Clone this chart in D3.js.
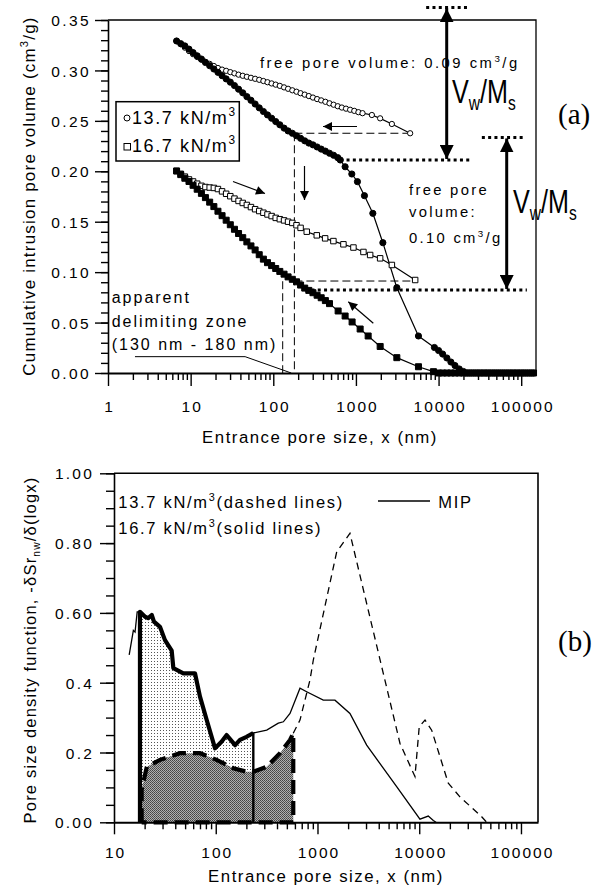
<!DOCTYPE html>
<html><head><meta charset="utf-8">
<script src="https://cdn.jsdelivr.net/npm/d3@7"></script>
<style>
html,body{margin:0;padding:0;background:#fff;}
svg{display:block;}
text{font-family:"Liberation Sans",Arial,Helvetica,sans-serif;fill:#000;}
</style></head><body>
<svg id="fig" width="608" height="895"></svg>
<script>
// ---------- Panel (a): cumulative intrusion pore volume, [pore size nm, volume cm3/g] ----------
const intrusion137 = [[6.76,0.3292],[7.59,0.3265],[8.51,0.3243],[9.55,0.3211],[10.7,0.3177],[12.0,0.3145],[13.5,0.3113],[15.1,0.3079],[17.0,0.3047],[19.1,0.3014],[21.4,0.2981],[24.0,0.2948],[26.9,0.2916],[30.2,0.2884],[33.9,0.2850],[38.0,0.2814],[42.7,0.2778],[47.9,0.2740],[53.7,0.2704],[60.3,0.2667],[67.6,0.2629],[75.9,0.2593],[85.1,0.2559],[95.5,0.2526],[107,0.2493],[120,0.2461],[135,0.2428],[151,0.2400],[170,0.2377],[191,0.2352],[214,0.2327],[240,0.2302],[269,0.2280],[302,0.2262],[339,0.2241],[380,0.2220],[427,0.2200],[479,0.2179],[537,0.2159],[603,0.2135],[646,0.2112],[740,0.2045],[892,0.1973],[1043,0.1897],[1268,0.1758],[1602,0.1583],[2118,0.1292],[3126,0.0846],[5710,0.0367],[8910,0.0253],[10000,0.0223],[11200,0.0188],[12600,0.0149],[14100,0.0109],[15800,0.0074],[17800,0.0040],[20000,0.0015],[22400,0],[25100,0],[28200,0],[31600,0],[35500,0],[39800,0],[44700,0],[50100,0],[56200,0],[63100,0],[70800,0],[79400,0],[89100,0],[100000,0],[112000,0],[126000,0],[141000,0]];
const extrusion137 = [[6.76,0.3292],[7.59,0.3261],[8.51,0.3226],[9.55,0.3192],[10.7,0.3161],[12.0,0.3133],[13.5,0.3106],[15.1,0.3085],[17.0,0.3065],[19.1,0.3044],[21.4,0.3024],[24.0,0.3008],[26.9,0.2996],[30.2,0.2983],[33.9,0.2971],[38.0,0.2958],[42.7,0.2947],[47.9,0.2937],[53.7,0.2927],[60.3,0.2917],[67.6,0.2907],[75.9,0.2895],[85.1,0.2883],[95.5,0.2871],[107,0.2859],[120,0.2847],[135,0.2832],[151,0.2818],[170,0.2803],[191,0.2789],[214,0.2774],[240,0.2760],[269,0.2746],[302,0.2731],[339,0.2716],[380,0.2703],[427,0.2689],[479,0.2674],[537,0.2660],[603,0.2645],[676,0.2632],[759,0.2621],[851,0.2610],[955,0.2599],[1072,0.2586],[1202,0.2576],[1559,0.2558],[1963,0.2525],[2722,0.2469],[4530,0.2377]];
const intrusion167 = [[6.76,0.2003],[7.59,0.1967],[8.51,0.1931],[9.55,0.1899],[10.7,0.1861],[12.0,0.1822],[13.5,0.1781],[15.1,0.1739],[17.0,0.1694],[19.1,0.1650],[21.4,0.1604],[24.0,0.1560],[26.9,0.1515],[30.2,0.1470],[33.9,0.1425],[38.0,0.1383],[42.7,0.1342],[47.9,0.1300],[53.7,0.1260],[60.3,0.1220],[67.6,0.1173],[75.9,0.1129],[85.1,0.1094],[95.5,0.1065],[107,0.1036],[120,0.1007],[135,0.0980],[151,0.0953],[170,0.0929],[191,0.0904],[214,0.0872],[240,0.0842],[269,0.0819],[302,0.0796],[339,0.0771],[380,0.0746],[427,0.0718],[479,0.0688],[609,0.0615],[740,0.0565],[899,0.0506],[1125,0.0436],[1406,0.0367],[1965,0.0263],[3126,0.0152],[5710,0.0062],[8670,0.0013],[10000,0],[11200,0],[12600,0],[14100,0],[15800,0],[17800,0],[20000,0],[22400,0],[25100,0],[28200,0],[31600,0],[35500,0],[39800,0],[44700,0],[50100,0],[56200,0],[63100,0],[70800,0],[79400,0],[89100,0],[100000,0],[112000,0],[126000,0],[141000,0]];
const extrusion167 = [[6.76,0.2003],[7.59,0.1975],[8.51,0.1947],[9.55,0.1919],[10.7,0.1899],[12.0,0.1877],[13.5,0.1856],[15.1,0.1844],[17.0,0.1839],[19.1,0.1835],[21.4,0.1824],[24.0,0.1801],[26.9,0.1777],[30.2,0.1753],[33.9,0.1729],[38.0,0.1706],[42.7,0.1686],[47.9,0.1666],[53.7,0.1645],[60.3,0.1624],[67.6,0.1606],[75.9,0.1589],[85.1,0.1572],[95.5,0.1556],[107,0.1538],[120,0.1525],[135,0.1513],[151,0.1500],[170,0.1488],[191,0.1465],[214,0.1439],[254,0.1401],[336,0.1365],[424,0.1335],[534,0.1308],[706,0.1276],[933,0.1244],[1233,0.1200],[1486,0.1170],[1963,0.1137],[2722,0.1071],[5210,0.0922]];

// delimiting zone (nm) and reference levels of the water-content arrows (cm3/g)
const delimitZone = [130, 180];
const vwLevels137 = [0.3625, 0.2112];
const vwLevels167 = [0.2335, 0.0823];

const xTicksA = [1, 10, 100, 1000, 10000, 100000];
const xTickLabelsA = ["1", "10", "100", "1000", "10000", "100000"];
const yTicksA = [0, 0.05, 0.10, 0.15, 0.20, 0.25, 0.30, 0.35];
const yTickLabelsA = ["0.00", "0.05", "0.10", "0.15", "0.20", "0.25", "0.30", "0.35"];

// ---------- Panel (b): pore size density function, [pore size nm, density] ----------
const psd167 = [[14.1,0.480],[15.5,0.550],[16.1,0.545],[16.9,0.603],[18.0,0.603],[20.2,0.589],[21.7,0.585],[23.5,0.594],[24.7,0.575],[28.3,0.560],[31.7,0.522],[36.9,0.492],[38.3,0.442],[48.0,0.427],[62.5,0.427],[70.0,0.360],[81.5,0.293],[98.4,0.212],[114,0.231],[128,0.250],[155,0.221],[173,0.236],[201,0.245],[234,0.256],[317,0.264],[412,0.284],[462,0.288],[537,0.312],[673,0.384],[783,0.374],[1140,0.350],[1486,0.350],[2084,0.312],[3045,0.221],[6000,0.102],[10160,0.009],[12270,0.018],[13750,0.005],[14620,0]];
const psd137 = [[18.7,0.093],[21.0,0.159],[28.3,0.179],[44.5,0.198],[70.0,0.198],[102,0.179],[149,0.155],[201,0.145],[234,0.145],[317,0.159],[428,0.198],[537,0.236],[578,0.255],[673,0.293],[844,0.408],[910,0.465],[1545,0.775],[2085,0.828],[4276,0.446],[6470,0.226],[9080,0.131],[10000,0.274],[11400,0.293],[13250,0.264],[19300,0.112],[25100,0.073],[41100,0.016],[46000,0]];
const rangeSolid = [18.0, 234];
const rangeDashed = [18.7, 578];

const xTicksB = [10, 100, 1000, 10000, 100000];
const xTickLabelsB = ["10", "100", "1000", "10000", "100000"];
const yTicksB = [0, 0.2, 0.4, 0.6, 0.8, 1.0];
const yTickLabelsB = ["0.00", "0.2", "0.4", "0.60", "0.80", "1.00"];

// ---------- helpers ----------
const svg = d3.select("#fig");
const defs = svg.append("defs");

function arrowMarker(id, len, wid) {
  defs.append("marker").attr("id", id).attr("viewBox", "0 0 10 10")
    .attr("refX", 10).attr("refY", 5).attr("markerUnits", "userSpaceOnUse")
    .attr("markerWidth", len).attr("markerHeight", wid).attr("orient", "auto-start-reverse")
    .append("path").attr("d", "M0,0L10,5L0,10Z").attr("fill", "#000");
}
arrowMarker("headSmall", 11, 9);
arrowMarker("headBig", 14, 14);

// light stipple and dark stipple fills
const pl = defs.append("pattern").attr("id", "stippleLight").attr("patternUnits", "userSpaceOnUse")
  .attr("width", 3).attr("height", 3);
pl.append("rect").attr("width", 3).attr("height", 3).attr("fill", "#fff");
pl.append("rect").attr("x", 1).attr("y", 1).attr("width", 1).attr("height", 1).attr("fill", "#555");
const pd = defs.append("pattern").attr("id", "stippleDark").attr("patternUnits", "userSpaceOnUse")
  .attr("width", 2).attr("height", 2);
pd.append("rect").attr("width", 2).attr("height", 2).attr("fill", "#b0b0b0");
pd.append("rect").attr("width", 1).attr("height", 1).attr("fill", "#444");
pd.append("rect").attr("x", 1).attr("y", 1).attr("width", 1).attr("height", 1).attr("fill", "#555");

// text with optional sub/superscript parts
function label(g, x, y, parts, o = {}) {
  const size = o.size || 15, ls = o.ls == null ? 2 : o.ls;
  const t = g.append("text")
    .attr("transform", `translate(${x},${y})` + (o.rotate ? ` rotate(${o.rotate})` : "") + (o.sx ? ` scale(${o.sx},1)` : ""))
    .attr("font-size", size).attr("text-anchor", o.anchor || "start")
    .style("letter-spacing", ls + "px");
  if (o.family) t.style("font-family", o.family);
  let shift = 0;
  (Array.isArray(parts) ? parts : [parts]).forEach(p => {
    const s = t.append("tspan");
    if (typeof p === "string") {
      s.text(p).attr("dy", -shift); shift = 0;
    } else {
      const target = p.sup ? -size * 0.42 : size * 0.22;
      s.text(p.t).attr("font-size", size * (p.sup ? 0.66 : 0.62)).attr("dy", target - shift);
      shift = target;
    }
  });
  return t;
}

function styleAxis(g, w) {
  g.select(".domain").attr("stroke", "#000").attr("stroke-width", w || 1.6);
  g.selectAll(".tick line").attr("stroke", "#000").attr("stroke-width", 1.4);
}

function minorTicks(lo, hi) {
  const out = [];
  for (let d = lo; d < hi; d *= 10) for (let k = 2; k <= 9; k++) out.push(d * k);
  return out;
}

// ================= Panel (a) =================
const xA = d3.scaleLog().domain([1, 151000]).range([108, 536]);
const yA = d3.scaleLinear().domain([0, 0.35]).range([373, 20]);
const gA = svg.append("g");

// frame
gA.append("path").attr("d", `M${xA(1)},${yA(0.35)}H${xA(151000)}V${yA(0)}`)
  .attr("fill", "none").attr("stroke", "#000").attr("stroke-width", 1.3);

// minor ticks
gA.append("g").attr("transform", `translate(0,${yA(0)})`)
  .call(d3.axisBottom(xA).tickValues(minorTicks(1, 100000).filter(v => v < 151000)).tickFormat("").tickSize(7).tickSizeOuter(0))
  .call(g => { styleAxis(g); g.select(".domain").remove(); });
gA.append("g").attr("transform", `translate(${xA(1)},0)`)
  .call(d3.axisLeft(yA).tickValues(d3.range(0, 36).map(i => i / 100)).tickFormat("").tickSize(7).tickSizeOuter(0))
  .call(g => { styleAxis(g); g.select(".domain").remove(); });

// major axes
const axA = gA.append("g").attr("transform", `translate(0,${yA(0)})`)
  .call(d3.axisBottom(xA).tickValues(xTicksA).tickFormat((d, i) => xTickLabelsA[i]).tickSize(13).tickSizeOuter(0));
styleAxis(axA, 2);
axA.selectAll("text").attr("y", 38.5).attr("dy", null).attr("font-size", 15.5)
  .style("letter-spacing", "2px").attr("dx", 1).attr("fill", "#000");
const ayA = gA.append("g").attr("transform", `translate(${xA(1)},0)`)
  .call(d3.axisLeft(yA).tickValues(yTicksA).tickFormat((d, i) => yTickLabelsA[i]).tickSize(13).tickSizeOuter(0));
styleAxis(ayA, 1.6);
ayA.selectAll("text").attr("x", -17).attr("dy", "0.36em").attr("font-size", 15.5)
  .style("letter-spacing", "2.4px").attr("fill", "#000");

// axis titles
label(gA, 320, 443, "Entrance pore size, x (nm)", {size: 16.8, ls: 1.5, anchor: "middle"});
label(gA, 35, 196, ["Cumulative intrusion pore volume (cm", {t: "3", sup: true}, "/g)"], {size: 17, ls: 1.2, anchor: "middle", rotate: -90});

// dashed guide lines of the delimiting zone
const ext137 = extrusion137[extrusion137.length - 1], ext167 = extrusion167[extrusion167.length - 1];
const guide = d3.line().x(d => xA(d[0])).y(d => yA(d[1]));
[
  [[delimitZone[1], ext137[1]], [delimitZone[1], 0]],
  [[delimitZone[0], ext167[1] - 0.0012], [delimitZone[0], 0]],
  [[delimitZone[1], ext137[1]], ext137],
  [[delimitZone[1], ext167[1] - 0.001], [ext167[0], ext167[1] - 0.001]]
].forEach(seg => gA.append("path").attr("d", guide(seg)).attr("fill", "none")
  .attr("stroke", "#000").attr("stroke-width", 1).attr("stroke-dasharray", "8,4"));

// series
const lineA = d3.line().x(d => xA(d[0])).y(d => yA(d[1]));
function drawSeries(data, shape, filled) {
  gA.append("path").attr("d", lineA(data)).attr("fill", "none").attr("stroke", "#000").attr("stroke-width", 1.2);
  const size = shape === "circle" ? (filled ? 30 : 22) : (filled ? 36 : 30);
  const sym = d3.symbol().type(shape === "circle" ? d3.symbolCircle : d3.symbolSquare).size(size);
  gA.append("g").selectAll("path").data(data).join("path")
    .attr("transform", d => `translate(${xA(d[0])},${yA(d[1])})`)
    .attr("d", sym).attr("fill", filled ? "#000" : "#fff").attr("stroke", "#000").attr("stroke-width", 1);
}
drawSeries(extrusion137, "circle", false);
drawSeries(intrusion137, "circle", true);
drawSeries(extrusion167, "square", false);
drawSeries(intrusion167, "square", true);

// thick dotted reference levels
function dotted(x0, x1, v) {
  gA.append("line").attr("x1", x0).attr("x2", x1).attr("y1", yA(v)).attr("y2", yA(v))
    .attr("stroke", "#000").attr("stroke-width", 3).attr("stroke-dasharray", "3,3.3");
}
dotted(xA(7080), xA(22200), vwLevels137[0]);
dotted(xA(646), xA(24100), vwLevels137[1]);
dotted(xA(33400), xA(106600), vwLevels167[0]);
dotted(xA(243), xA(117000), vwLevels167[1]);

// double-headed water-content arrows
function bigArrow(px, levels) {
  gA.append("line").attr("x1", px).attr("x2", px).attr("y1", yA(levels[0]) + 1).attr("y2", yA(levels[1]) - 1)
    .attr("stroke", "#000").attr("stroke-width", 3)
    .attr("marker-start", "url(#headBig)").attr("marker-end", "url(#headBig)");
}
bigArrow(446.7, vwLevels137);
bigArrow(506.7, vwLevels167);
label(gA, 452, 103, ["V", {t: "w", sub: true}, "/M", {t: "s", sub: true}], {size: 34, ls: 0, sx: 0.74});
label(gA, 513, 213, ["V", {t: "w", sub: true}, "/M", {t: "s", sub: true}], {size: 34, ls: 0, sx: 0.74});

// small direction arrows
[[357, 126.5, 323, 126.5], [304.5, 166, 304.5, 200], [233, 181.5, 265, 193.5], [373.3, 323.3, 348.3, 301.7]]
  .forEach(a => gA.append("line").attr("x1", a[0]).attr("y1", a[1]).attr("x2", a[2]).attr("y2", a[3])
    .attr("stroke", "#000").attr("stroke-width", 1.2).attr("marker-end", "url(#headSmall)"));

// annotations
label(gA, 260, 68, ["free pore volume: 0.09 cm", {t: "3", sup: true}, "/g"], {size: 14.8, ls: 2.5});
label(gA, 409, 195, "free pore", {size: 14.8, ls: 2.3});
label(gA, 409, 216.7, "volume:", {size: 14.8, ls: 2.3});
label(gA, 409, 243.3, ["0.10 cm", {t: "3", sup: true}, "/g"], {size: 14.8, ls: 2.3});
label(gA, 111.7, 303.3, "apparent", {size: 16, ls: 2});
label(gA, 111.7, 326.7, "delimiting zone", {size: 16, ls: 2});
label(gA, 111.7, 350, "(130 nm - 180 nm)", {size: 16, ls: 2});
gA.append("path").attr("d", lineA([[2.12, 0.0162], [45.6, 0.0162], [165, 0]]))
  .attr("fill", "none").attr("stroke", "#000").attr("stroke-width", 1);

// legend
gA.append("rect").attr("x", 116).attr("y", 101.7).attr("width", 123.3).attr("height", 59.3)
  .attr("fill", "#fff").attr("stroke", "#000").attr("stroke-width", 1.5);
gA.append("circle").attr("cx", 127).attr("cy", 118).attr("r", 3).attr("fill", "#fff").attr("stroke", "#000").attr("stroke-width", 1);
gA.append("rect").attr("x", 124).attr("y", 143.5).attr("width", 6.5).attr("height", 6.5).attr("fill", "#fff").attr("stroke", "#000").attr("stroke-width", 1);
label(gA, 132, 123.5, ["13.7 kN/m", {t: "3", sup: true}], {size: 18, ls: 1.6});
label(gA, 132, 151.7, ["16.7 kN/m", {t: "3", sup: true}], {size: 18, ls: 1.6});

// panel tag
label(gA, 558, 123.5, "(a)", {size: 29, ls: 0, family: "'Liberation Serif','Times New Roman',serif"});

// ================= Panel (b) =================
const xB = d3.scaleLog().domain([10, 147000]).range([114, 538]);
const yB = d3.scaleLinear().domain([0, 1]).range([822.3, 473.3]);
const gB = svg.append("g");

const lineB = d3.line().x(d => xB(d[0])).y(d => yB(d[1]));
const areaB = d3.area().x(d => xB(d[0])).y0(yB(0)).y1(d => yB(d[1]));
const inRange = (data, r) => data.filter(d => d[0] >= r[0] && d[0] <= r[1]);
const solidPart = inRange(psd167, rangeSolid);
const dashedPart = inRange(psd137, rangeDashed);

// shaded areas
gB.append("path").attr("d", areaB(solidPart)).attr("fill", "url(#stippleLight)");
gB.append("path").attr("d", areaB(dashedPart)).attr("fill", "url(#stippleDark)");

// thin full-range curves
gB.append("path").attr("d", lineB(psd167)).attr("fill", "none").attr("stroke", "#000").attr("stroke-width", 1.3);
gB.append("path").attr("d", lineB(psd137.filter(d => d[0] >= rangeDashed[1])))
  .attr("fill", "none").attr("stroke", "#000").attr("stroke-width", 1.3).attr("stroke-dasharray", "7,5");

// heavy outline of the solid region
const s0 = solidPart[0], s1 = solidPart[solidPart.length - 1];
gB.append("path").attr("d", lineB([[s0[0], 0], ...solidPart]))
  .attr("fill", "none").attr("stroke", "#000").attr("stroke-width", 4.2).attr("stroke-linejoin", "round");
gB.append("line").attr("x1", xB(s1[0])).attr("x2", xB(s1[0])).attr("y1", yB(s1[1])).attr("y2", yB(0))
  .attr("stroke", "#000").attr("stroke-width", 2.4);

// heavy dashed outline of the dashed region
const d0 = dashedPart[0], d1 = dashedPart[dashedPart.length - 1];
gB.append("path").attr("d", lineB([[d0[0], 0], ...dashedPart, [d1[0], 0], [d0[0], 0]]))
  .attr("fill", "none").attr("stroke", "#000").attr("stroke-width", 4.2).attr("stroke-dasharray", "14,7");

// axes
const yMinorB = d3.range(0, 21).map(i => i / 20);
gB.append("g").attr("transform", `translate(0,${yB(0)})`)
  .call(d3.axisBottom(xB).tickValues(minorTicks(10, 100000).filter(v => v < 147000)).tickFormat("").tickSize(7).tickSizeOuter(0))
  .call(g => { styleAxis(g); g.select(".domain").remove(); });
gB.append("g").attr("transform", `translate(${xB(10)},0)`)
  .call(d3.axisLeft(yB).tickValues(yMinorB).tickFormat("").tickSize(8).tickSizeOuter(0))
  .call(g => { styleAxis(g); g.select(".domain").remove(); });
const axB = gB.append("g").attr("transform", `translate(0,${yB(0)})`)
  .call(d3.axisBottom(xB).tickValues(xTicksB).tickFormat((d, i) => xTickLabelsB[i]).tickSize(12).tickSizeOuter(0));
styleAxis(axB, 2);
axB.selectAll("text").attr("y", 36).attr("dy", null).attr("font-size", 15.5)
  .style("letter-spacing", "2px").attr("dx", 1).attr("fill", "#000");
const ayB = gB.append("g").attr("transform", `translate(${xB(10)},0)`)
  .call(d3.axisLeft(yB).tickValues(yTicksB).tickFormat((d, i) => yTickLabelsB[i]).tickSize(14).tickSizeOuter(0));
styleAxis(ayB, 1.6);
ayB.selectAll("text").attr("x", -20).attr("dy", "0.36em").attr("font-size", 15.5)
  .style("letter-spacing", "2.2px").attr("fill", "#000");

// frame
gB.append("path").attr("d", `M${xB(10)},${yB(1)}H${xB(147000)}V${yB(0)}`)
  .attr("fill", "none").attr("stroke", "#000").attr("stroke-width", 1.6);

// titles
label(gB, 326, 881.5, "Entrance pore size, x (nm)", {size: 16.8, ls: 1.5, anchor: "middle"});
label(gB, 36, 650, ["Pore size density function, -δSr", {t: "nw", sub: true}, "/δ(logx)"], {size: 16.5, ls: 1.2, anchor: "middle", rotate: -90});

// legend text
label(gB, 118.3, 508.3, ["13.7 kN/m", {t: "3", sup: true}, "(dashed lines)"], {size: 16.5, ls: 1.7});
label(gB, 118.3, 534.3, ["16.7 kN/m", {t: "3", sup: true}, "(solid lines)"], {size: 16.5, ls: 1.7});
gB.append("line").attr("x1", 378).attr("x2", 430).attr("y1", 501).attr("y2", 501).attr("stroke", "#000").attr("stroke-width", 1.3);
label(gB, 438.3, 508, "MIP", {size: 16.5, ls: 1.7});

label(gB, 558, 651, "(b)", {size: 29, ls: 0, family: "'Liberation Serif','Times New Roman',serif"});
</script></body></html>
